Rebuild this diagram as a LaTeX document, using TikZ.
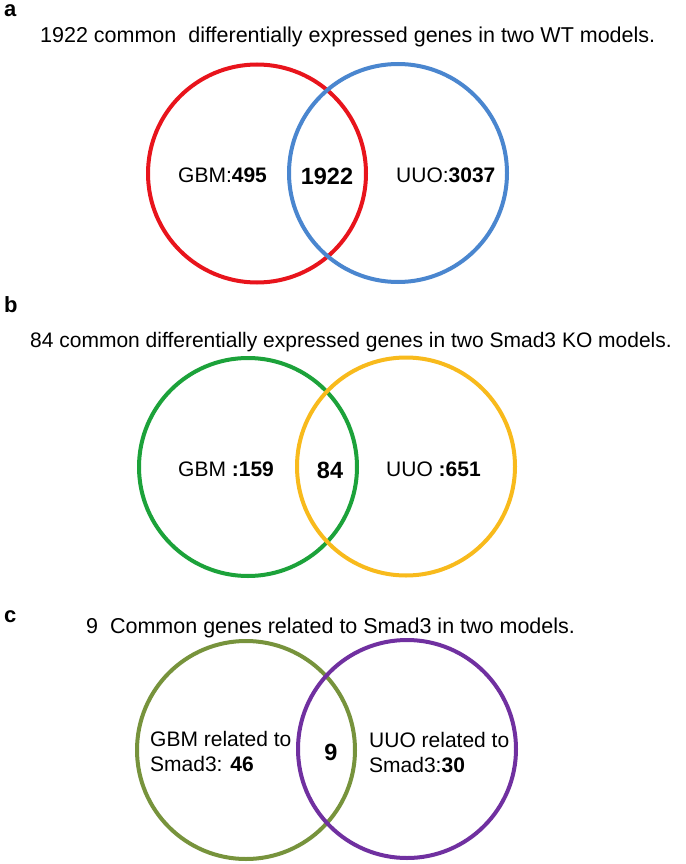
\documentclass[tikz,border=0pt]{standalone}
\usepackage{fontspec}
\setmainfont{Liberation Sans}
\definecolor{cRed}{HTML}{E8141C}
\definecolor{cBlue}{HTML}{4A86CF}
\definecolor{cGreen}{HTML}{1CA23A}
\definecolor{cGold}{HTML}{F8BA1C}
\definecolor{cOlive}{HTML}{77933C}
\definecolor{cPurple}{HTML}{7030A0}
\tikzset{
  vset/.style={circle, draw, line width=4pt, minimum size=218pt, inner sep=0pt},
  paneltag/.style={anchor=base west, inner sep=0pt, font=\fontsize{22}{24}\selectfont\bfseries},
  ttl/.style={anchor=base west, inner sep=0pt, font=\fontsize{21.5}{24}\selectfont},
  lbl/.style={anchor=base west, inner sep=0pt, font=\fontsize{21}{24}\selectfont},
  mid/.style={anchor=base, inner sep=0pt, font=\fontsize{23.5}{26}\selectfont\bfseries}
}
\begin{document}
\begin{tikzpicture}[x=1pt,y=-1pt]
\useasboundingbox (0,0) rectangle (685,864);
\fill[white] (0,0) rectangle (685,864);
% panel a
\node[paneltag] (tagA) at (4,17) {a};
\node[ttl] (titleA) at (40,43) {1922 common\ \ differentially expressed genes in two WT models.};
\node[vset, draw=cRed] (gbmA) at (257,173.5) {};
\node[vset, draw=cBlue] (uuoA) at (398,173) {};
\node[lbl] (gbmAt) at (178,182) {GBM:\textbf{495}};
\node[mid] (comA) at (327,184) {1922};
\node[lbl] (uuoAt) at (396,182) {UUO:\textbf{3037}};
% panel b
\node[paneltag] (tagB) at (4,312) {b};
\node[ttl, font=\fontsize{21}{24}\selectfont] (titleB) at (30,347) {84 common differentially expressed genes in two Smad3 KO models.};
\node[vset, draw=cGreen] (gbmB) at (248,467) {};
\node[vset, draw=cGold] (uuoB) at (406,466.5) {};
\node[lbl] (gbmBt) at (178,476) {GBM \textbf{:159}};
\node[mid] (comB) at (330,478) {84};
\node[lbl] (uuoBt) at (386,476) {UUO \textbf{:651}};
% panel c
\node[paneltag] (tagC) at (4,622) {c};
\node[ttl] (titleC) at (86,633) {9\ \ Common genes related to Smad3 in two models.};
\node[vset, draw=cOlive] (gbmC) at (246,750) {};
\node[vset, draw=cPurple] (uuoC) at (407,749) {};
\node[lbl] (gbmCt1) at (150,746) {GBM related to};
\node[lbl] (gbmCt2) at (150,771) {Smad3: \textbf{46}};
\node[mid] (comC) at (331,760) {9};
\node[lbl] (uuoCt1) at (369,747) {UUO related to};
\node[lbl] (uuoCt2) at (369,772) {Smad3:\textbf{30}};
\end{tikzpicture}
\end{document}
